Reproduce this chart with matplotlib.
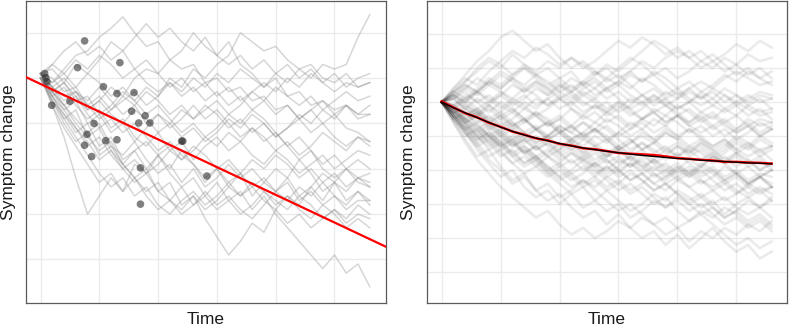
import numpy as np
import matplotlib
matplotlib.use("Agg")
import matplotlib.pyplot as plt

plt.rcParams["font.family"] = ["Liberation Sans", "DejaVu Sans"]

T_END = 5.6  # last time point of every trajectory

LEFT_LINES = [
    [0.1, -0.1, 0.2, 0.5, 0.6, 0.9, 1.1, 1.35, 1.0, 0.7, 0.8, 0.4, 0.2, 0.3, -0.1, 0.0, -0.3, -0.2, -0.5, -0.4, -0.7, -0.6, -0.9, -0.7, -1.0, -0.8, -1.1, -1.2, -1.4],
    [0.1, 0.0, -0.3, -0.2, -0.6, -0.4, -0.7, -0.5, -0.3, -0.6, -0.4, -0.1, -0.3, 0.0, -0.2, 0.1, -0.1, 0.2, 0.0, -0.2, 0.1, -0.1, 0.2, 0.0, 0.3, 0.2, 0.3, 0.9, 1.4],
    [0.1, -0.2, -0.4, -0.3, -0.7, -0.5, -0.2, -0.4, 0.0, 0.2, 0.1, 0.4, 0.6, 1.0, 0.7, 0.5, 0.8, 0.3, 0.1, -0.2, 0.0, -0.4, -0.3, -0.6, -0.5, -0.8, -0.6, -0.9, -0.8],
    [0.0, -0.3, -0.1, -0.5, -0.4, -0.8, -0.6, -0.3, -0.5, -0.2, -0.4, 0.0, -0.2, 0.2, 0.0, 0.3, 0.5, 1.0, 0.8, 0.6, 0.7, 0.4, 0.2, 0.3, 0.0, -0.1, 0.1, -0.2, -0.1],
    [0.1, -0.6, -1.3, -2.2, -3.0, -2.6, -2.2, -2.5, -1.9, -2.1, -1.7, -2.0, -1.6, -1.9, -2.3, -2.0, -2.4, -2.1, -2.6, -2.3, -2.0, -2.2, -1.8, -2.1, -2.5, -2.3, -2.7, -2.5, -2.8],
    [0.1, -0.4, -0.9, -0.7, -1.3, -1.6, -1.4, -1.9, -2.2, -2.0, -2.5, -2.3, -2.8, -2.6, -3.1, -3.5, -3.9, -3.6, -3.2, -3.4, -2.9, -2.6, -2.8, -2.4, -2.7, -2.3, -2.5, -2.2, -2.4],
    [0.0, -0.5, -0.8, -1.2, -1.0, -1.5, -1.3, -1.8, -1.6, -2.0, -1.7, -2.1, -2.4, -2.2, -2.6, -2.3, -2.7, -2.5, -2.9, -2.6, -3.0, -3.3, -3.6, -3.9, -4.2, -3.9, -4.3, -4.1, -4.6],
    [0.1, -0.3, -0.7, -0.5, -1.0, -0.8, -1.2, -1.0, -1.4, -1.1, -0.8, -1.0, -0.7, -0.9, -0.6, -0.8, -1.1, -0.9, -1.2, -1.0, -1.3, -1.1, -0.9, -1.2, -1.0, -1.3, -1.5, -1.3, -1.5],
    [0.0, -0.4, -0.2, -0.6, -0.9, -0.7, -1.1, -0.9, -1.3, -1.5, -1.2, -1.6, -1.4, -1.8, -1.5, -1.3, -1.6, -1.4, -1.7, -1.9, -1.6, -1.8, -2.1, -1.9, -1.7, -2.0, -1.8, -1.6, -1.7],
    [0.1, -0.2, -0.5, -0.3, -0.6, -0.9, -0.7, -0.4, -0.6, -0.3, -0.5, -0.8, -0.6, -0.9, -0.7, -0.5, -0.8, -0.6, -0.3, -0.5, -0.2, -0.4, -0.6, -0.4, -0.7, -0.5, -0.3, -0.5, -0.4],
    [0.0, -0.3, -0.6, -0.9, -1.2, -1.0, -1.5, -1.7, -1.4, -1.8, -2.1, -1.9, -2.3, -2.0, -2.4, -2.2, -1.9, -2.2, -2.0, -2.3, -2.5, -2.2, -2.6, -2.4, -2.1, -2.3, -2.0, -2.2, -2.1],
    [0.1, -0.4, -0.8, -1.1, -1.4, -1.8, -1.6, -2.0, -2.3, -2.1, -2.5, -2.7, -2.4, -2.8, -2.6, -2.9, -2.7, -3.0, -2.8, -2.5, -2.7, -2.9, -2.6, -2.8, -3.1, -2.9, -3.2, -3.0, -3.1],
    [0.1, -0.1, 0.1, 0.4, 0.2, 0.5, 0.3, 0.0, 0.2, -0.1, -0.3, -0.1, -0.4, -0.2, -0.5, -0.3, -0.6, -0.4, -0.7, -0.5, -0.8, -0.6, -0.9, -0.7, -0.5, -0.7, -0.6, -0.8, -0.6],
    [0.0, -0.5, -1.0, -1.4, -1.2, -1.7, -1.5, -1.9, -1.6, -1.4, -1.7, -1.5, -1.8, -1.6, -1.3, -1.5, -1.2, -1.4, -1.1, -1.3, -1.6, -1.4, -1.7, -1.5, -1.2, -1.4, -1.6, -1.3, -1.4],
    [0.1, -0.3, -0.6, -1.0, -1.3, -1.1, -1.6, -1.9, -2.2, -2.5, -2.3, -2.7, -2.9, -2.6, -2.9, -2.7, -2.4, -2.6, -2.3, -2.5, -2.8, -2.6, -2.9, -3.1, -2.8, -3.0, -3.3, -3.1, -3.3],
    [0.1, 0.3, 0.6, 0.8, 0.5, 0.7, 0.4, 0.6, 0.2, 0.4, 0.1, -0.2, 0.0, -0.3, -0.1, -0.4, -0.2, -0.5, -0.3, -0.1, -0.3, 0.0, -0.2, 0.1, -0.1, -0.3, -0.1, -0.2, -0.1],
    [0.0, -0.4, -0.7, -1.1, -1.5, -1.3, -1.7, -2.0, -1.8, -2.1, -1.9, -1.6, -1.8, -1.5, -1.7, -2.0, -1.8, -2.1, -2.4, -2.2, -2.5, -2.3, -2.7, -2.5, -2.8, -2.6, -2.9, -2.7, -2.7],
    [0.1, -0.2, 0.0, -0.3, -0.5, -0.2, -0.5, -0.8, -0.6, -1.0, -0.8, -1.1, -0.9, -0.6, -0.9, -0.7, -1.0, -1.3, -1.1, -1.4, -1.2, -1.5, -1.8, -1.6, -2.0, -2.2, -2.0, -2.3, -2.4],
    [0.0, -0.5, -0.9, -1.3, -1.7, -2.1, -2.4, -2.2, -2.6, -2.4, -2.8, -3.0, -2.7, -2.5, -2.8, -2.6, -2.3, -2.6, -2.4, -2.7, -2.9, -3.2, -3.0, -3.3, -3.1, -2.9, -3.1, -2.8, -3.0],
    [0.1, -0.3, -0.1, -0.4, -0.7, -0.5, -0.8, -1.0, -0.7, -0.9, -1.2, -1.0, -1.3, -1.1, -1.4, -1.2, -0.9, -1.1, -0.8, -1.0, -1.3, -1.1, -0.8, -1.0, -0.7, -0.9, -0.6, -0.8, -0.8],
    [0.1, 0.2, -0.1, 0.3, 0.1, 0.4, 0.8, 0.6, 0.9, 1.2, 0.9, 1.1, 0.8, 0.6, 0.9, 0.5, 0.3, 0.5, 0.2, 0.4, 0.1, 0.3, 0.0, 0.2, -0.1, 0.1, -0.2, 0.0, 0.1],
    [0.0, -0.6, -1.1, -1.5, -1.9, -2.3, -2.1, -2.5, -2.2, -2.6, -2.9, -2.7, -3.0, -2.8, -2.5, -2.8, -2.6, -2.9, -3.1, -2.8, -2.5, -2.7, -2.4, -2.6, -2.3, -2.6, -2.8, -2.5, -2.7],
    [0.1, -0.2, -0.6, -0.4, -0.8, -1.1, -0.9, -1.2, -1.0, -1.3, -1.6, -1.4, -1.7, -1.9, -2.2, -2.0, -2.3, -2.1, -1.8, -2.0, -1.7, -1.9, -2.2, -2.0, -2.3, -2.1, -2.4, -2.2, -2.3],
    [0.0, 0.3, 0.1, -0.2, 0.1, -0.1, -0.4, -0.2, -0.5, -0.8, -0.6, -0.9, -1.2, -1.0, -1.3, -1.1, -0.8, -1.0, -0.7, -0.9, -1.2, -1.5, -1.3, -1.6, -1.9, -1.7, -2.0, -1.8, -2.0],
]

# observed points (time, value)
DOT_T = [0.07, 0.09, 0.11, 0.19, 0.50, 0.63, 0.75, 0.79, 0.75, 0.91, 0.87, 1.07, 1.11,
         1.30, 1.30, 1.35, 1.55, 1.59, 1.67, 1.78, 1.86, 1.70, 1.70, 2.40, 2.42, 2.83]
DOT_Y = [0.10, 0.01, -0.08, -0.60, -0.51, 0.23, 0.82, -1.24, -1.48, -1.00, -1.73, -0.19, -1.38,
         -0.34, -1.36, 0.34, -0.73, -0.32, -0.99, -0.83, -0.99, -1.98, -2.78, -1.39, -1.39, -2.16]

# linear fit shown in red
FIT_INTERCEPT = -0.13
FIT_SLOPE = -0.611

# ----- right panel: simulated trajectories -----
RIGHT_LINES = [
    [0, 0.3, 0.6, 0.9, 1.2, 1.0, 1.4, 1.1, 0.8, 1.0, 0.7, 0.9, 0.5, 0.7, 0.4, 0.6, 0.9, 0.6, 0.8, 0.5, 0.2, 0.4, 0.1, 0.3, 0.0, 0.2, -0.1, 0.1, -0.2],
    [0, -0.5, -0.9, -1.4, -1.8, -2.2, -2.0, -2.5, -2.8, -2.6, -3.0, -2.7, -3.1, -2.9, -2.6, -2.9, -3.2, -3.0, -2.7, -2.9, -2.6, -2.8, -3.1, -2.9, -3.3, -3.0, -2.8, -3.1, -2.9],
    [0, -0.2, -0.4, -0.2, -0.5, -0.8, -0.6, -0.9, -1.2, -1.0, -0.7, -0.9, -1.1, -0.8, -1.0, -1.3, -1.1, -1.4, -1.2, -0.9, -1.1, -1.4, -1.2, -1.5, -1.3, -1.0, -1.2, -1.4, -1.3],
    [0, 0.2, 0.0, 0.3, 0.1, -0.2, 0.1, -0.1, -0.4, -0.2, 0.1, -0.1, 0.2, 0.0, -0.3, -0.1, -0.4, -0.2, 0.1, -0.1, -0.3, -0.6, -0.4, -0.7, -0.5, -0.8, -0.6, -0.9, -0.7],
    [0, -0.4, -0.7, -1.0, -1.3, -1.1, -1.5, -1.8, -1.6, -1.9, -2.2, -2.0, -1.7, -1.9, -2.2, -2.0, -2.3, -2.1, -2.4, -2.2, -1.9, -2.1, -1.8, -2.0, -2.3, -2.1, -2.4, -2.2, -2.0],
    [0, -0.3, -0.1, -0.4, -0.7, -0.5, -0.8, -0.6, -0.3, -0.5, -0.8, -1.1, -0.9, -1.2, -1.5, -1.3, -1.6, -1.4, -1.7, -2.0, -1.8, -2.1, -1.9, -1.6, -1.8, -1.5, -1.7, -2.0, -1.8],
    [0, -0.6, -1.1, -1.6, -1.4, -1.9, -2.3, -2.1, -2.6, -2.9, -2.7, -3.1, -3.4, -3.2, -3.6, -3.3, -3.7, -4.0, -3.8, -4.2, -3.9, -4.3, -4.0, -3.7, -4.1, -4.4, -4.2, -4.6, -4.4],
    [0, 0.4, 0.8, 1.2, 1.5, 1.9, 2.1, 1.8, 1.5, 1.7, 1.3, 1.0, 1.2, 0.9, 0.6, 0.8, 0.5, 0.2, 0.4, 0.1, 0.3, 0.0, 0.2, -0.1, -0.3, -0.1, -0.4, -0.2, -0.5],
    [0, -0.3, -0.6, -0.9, -0.7, -1.0, -1.3, -1.1, -1.4, -1.2, -1.5, -1.8, -1.6, -1.9, -1.7, -2.0, -2.3, -2.1, -2.4, -2.6, -2.3, -2.5, -2.8, -2.6, -2.9, -2.7, -2.4, -2.6, -2.5],
    [0, -0.1, 0.2, 0.0, -0.3, 0.0, -0.2, -0.5, -0.3, -0.6, -0.4, -0.7, -1.0, -0.8, -1.1, -0.9, -0.6, -0.8, -0.5, -0.7, -1.0, -0.8, -1.1, -1.3, -1.1, -1.4, -1.2, -1.5, -1.3],
    [0, -0.4, -0.8, -0.6, -1.0, -1.3, -1.6, -1.4, -1.7, -1.5, -1.2, -1.4, -1.1, -1.3, -1.6, -1.4, -1.7, -1.9, -1.7, -1.4, -1.6, -1.3, -1.5, -1.8, -1.6, -1.9, -1.7, -2.0, -1.8],
    [0, -0.2, -0.5, -0.8, -1.1, -0.9, -1.2, -1.5, -1.8, -2.1, -1.9, -2.2, -2.5, -2.3, -2.6, -2.4, -2.7, -2.5, -2.8, -3.1, -2.9, -3.2, -3.0, -3.3, -3.6, -3.4, -3.7, -3.5, -3.8],
    [0, 0.1, 0.4, 0.2, 0.5, 0.3, 0.0, 0.2, -0.1, 0.1, -0.2, 0.0, 0.3, 0.1, 0.4, 0.6, 0.4, 0.7, 0.5, 0.2, 0.4, 0.1, -0.1, 0.1, -0.2, 0.0, 0.2, 0.0, 0.1],
    [0, -0.3, -0.5, -0.3, -0.6, -0.4, -0.7, -0.5, -0.8, -1.1, -0.9, -1.2, -1.0, -1.3, -1.1, -1.4, -1.2, -0.9, -1.1, -0.8, -1.0, -1.3, -1.1, -1.4, -1.2, -1.5, -1.3, -1.6, -1.4],
    [0, -0.5, -0.8, -1.2, -1.0, -1.4, -1.2, -1.5, -1.3, -1.6, -1.9, -1.7, -2.0, -1.8, -2.1, -1.9, -1.6, -1.8, -2.1, -2.4, -2.2, -2.5, -2.3, -2.6, -2.4, -2.7, -2.5, -2.2, -2.4],
    [0, 0.2, 0.5, 0.3, 0.6, 0.9, 0.7, 0.4, 0.6, 0.3, 0.5, 0.2, -0.1, 0.1, -0.2, 0.0, -0.3, -0.5, -0.3, -0.6, -0.4, -0.7, -0.5, -0.8, -0.6, -0.9, -0.7, -1.0, -0.8],
    [0, -0.4, -0.6, -0.9, -1.2, -1.0, -1.3, -1.1, -0.8, -1.0, -1.3, -1.1, -1.4, -1.7, -1.5, -1.8, -1.6, -1.9, -2.2, -2.0, -2.3, -2.1, -2.4, -2.2, -1.9, -2.1, -2.4, -2.2, -2.5],
    [0, -0.2, 0.0, -0.3, -0.1, -0.4, -0.2, -0.5, -0.8, -0.6, -0.9, -0.7, -0.4, -0.6, -0.3, -0.5, -0.8, -0.6, -0.9, -0.7, -0.4, -0.6, -0.3, -0.5, -0.2, -0.4, -0.7, -0.5, -0.6],
    [0, -0.5, -1.0, -0.8, -1.2, -1.6, -1.4, -1.8, -1.6, -2.0, -2.3, -2.1, -2.4, -2.2, -1.9, -2.1, -1.8, -2.0, -1.7, -1.9, -2.2, -2.0, -2.3, -2.5, -2.3, -2.6, -2.8, -2.6, -2.9],
    [0, -0.1, -0.4, -0.2, -0.5, -0.3, -0.6, -0.9, -0.7, -1.0, -0.8, -1.1, -0.9, -0.6, -0.8, -1.1, -1.4, -1.2, -1.5, -1.3, -1.6, -1.4, -1.7, -1.5, -1.8, -1.6, -1.9, -1.7, -2.0],
    [0, -0.3, -0.7, -1.0, -0.8, -1.2, -1.0, -1.3, -1.6, -1.4, -1.7, -1.5, -1.8, -2.1, -1.9, -2.2, -2.0, -2.3, -2.6, -2.4, -2.7, -2.9, -2.7, -3.0, -2.8, -3.1, -3.3, -3.1, -3.4],
    [0, 0.3, 0.1, 0.4, 0.7, 0.5, 0.8, 1.1, 0.9, 1.2, 1.0, 1.3, 1.1, 0.8, 1.0, 0.7, 0.9, 1.2, 1.0, 1.3, 1.5, 1.3, 1.0, 1.2, 0.9, 1.1, 0.8, 1.0, 0.7],
    [0, -0.2, -0.5, -0.3, -0.6, -0.9, -0.7, -1.0, -0.8, -1.1, -0.9, -1.2, -1.5, -1.3, -1.6, -1.4, -1.7, -1.5, -1.8, -1.6, -1.3, -1.5, -1.2, -1.4, -1.7, -1.5, -1.8, -1.6, -1.9],
    [0, -0.4, -0.9, -1.3, -1.7, -2.0, -2.4, -2.2, -2.6, -2.4, -2.8, -2.6, -2.3, -2.5, -2.2, -2.4, -2.1, -2.3, -2.6, -2.4, -2.7, -3.0, -2.8, -3.1, -3.4, -3.2, -3.5, -3.3, -3.6],
    [0, -0.1, 0.1, -0.2, 0.0, 0.3, 0.1, 0.4, 0.2, -0.1, 0.1, -0.2, -0.5, -0.3, -0.6, -0.4, -0.7, -0.5, -0.2, -0.4, -0.1, -0.3, -0.6, -0.4, -0.7, -0.9, -0.7, -1.0, -0.8],
    [0, -0.3, -0.6, -0.4, -0.7, -1.0, -0.8, -1.1, -1.4, -1.2, -1.5, -1.3, -1.6, -1.4, -1.7, -2.0, -1.8, -2.1, -1.9, -2.2, -2.0, -1.7, -1.9, -1.6, -1.8, -2.1, -1.9, -2.2, -2.0],
    [0, -0.5, -0.3, -0.7, -1.0, -0.8, -1.1, -0.9, -1.2, -1.0, -0.7, -0.9, -0.6, -0.8, -0.5, -0.7, -1.0, -0.8, -1.1, -1.4, -1.2, -1.5, -1.3, -1.6, -1.4, -1.1, -1.3, -1.0, -1.2],
    [0, -0.2, -0.6, -1.0, -1.4, -1.2, -1.6, -1.9, -1.7, -2.1, -2.4, -2.7, -2.5, -2.9, -3.2, -3.0, -3.4, -3.2, -2.9, -3.1, -2.8, -3.0, -3.3, -3.1, -3.4, -3.2, -2.9, -3.1, -2.8],
    [0, 0.2, 0.4, 0.7, 0.5, 0.8, 0.6, 0.3, 0.5, 0.2, 0.4, 0.7, 0.5, 0.8, 1.1, 0.9, 1.2, 1.5, 1.8, 1.6, 1.3, 1.5, 1.2, 1.4, 1.1, 0.8, 1.0, 0.7, 0.9],
    [0, -0.3, -0.2, -0.5, -0.8, -0.6, -0.9, -1.2, -1.0, -1.3, -1.6, -1.4, -1.7, -1.5, -1.8, -1.6, -1.9, -1.7, -2.0, -1.8, -2.1, -1.9, -2.2, -2.0, -2.3, -2.1, -2.4, -2.2, -2.5],
    [0, -0.4, -0.7, -1.1, -0.9, -1.3, -1.1, -1.5, -1.3, -1.6, -1.4, -1.1, -1.3, -1.0, -1.2, -0.9, -1.1, -1.4, -1.2, -1.5, -1.3, -1.6, -1.4, -1.7, -1.5, -1.2, -1.4, -1.1, -1.3],
    [0, -0.6, -1.2, -1.7, -2.1, -2.5, -2.8, -3.1, -3.4, -3.2, -3.6, -3.9, -3.7, -4.0, -3.8, -3.5, -3.7, -3.4, -3.6, -3.9, -3.7, -4.1, -3.8, -4.0, -3.7, -3.9, -3.6, -3.8, -3.5],
    [0, 0.1, -0.2, 0.1, -0.1, 0.2, 0.5, 0.3, 0.6, 0.4, 0.1, 0.3, 0.0, -0.2, 0.0, -0.3, -0.1, 0.2, 0.0, 0.3, 0.1, 0.4, 0.6, 0.4, 0.7, 0.9, 0.7, 0.5, 0.6],
    [0, -0.3, -0.5, -0.8, -0.6, -0.9, -1.2, -1.0, -1.3, -1.1, -1.4, -1.2, -1.5, -1.8, -1.6, -1.3, -1.5, -1.2, -1.4, -1.7, -1.5, -1.8, -2.1, -1.9, -2.2, -2.0, -2.3, -2.1, -2.2],
    [0, -0.2, -0.5, -0.7, -1.0, -1.3, -1.1, -1.4, -1.7, -2.0, -1.8, -2.1, -1.9, -2.2, -2.5, -2.3, -2.6, -2.4, -2.1, -2.3, -2.0, -2.2, -1.9, -2.1, -2.4, -2.2, -2.5, -2.7, -2.5],
    [0, 0.3, 0.6, 1.0, 1.3, 1.1, 0.8, 1.0, 0.7, 0.4, 0.6, 0.3, 0.5, 0.2, 0.4, 0.1, -0.2, 0.0, -0.3, -0.1, -0.4, -0.2, -0.5, -0.3, -0.6, -0.4, -0.1, -0.3, -0.2],
    [0, -0.4, -0.8, -1.2, -1.6, -1.4, -1.8, -2.1, -1.9, -1.6, -1.8, -1.5, -1.7, -2.0, -2.3, -2.6, -2.4, -2.7, -3.0, -2.8, -3.2, -3.5, -3.3, -3.6, -3.9, -4.2, -4.0, -4.3, -4.1],
    [0, -0.1, -0.3, -0.6, -0.4, -0.7, -0.5, -0.2, -0.4, -0.7, -0.5, -0.8, -0.6, -0.9, -0.7, -1.0, -0.8, -0.5, -0.7, -0.4, -0.6, -0.9, -0.7, -1.0, -0.8, -1.1, -0.9, -0.6, -0.8],
    [0, -0.5, -0.9, -1.3, -1.1, -1.5, -1.8, -1.6, -1.9, -2.2, -2.0, -2.3, -2.1, -1.8, -2.0, -1.7, -1.9, -1.6, -1.8, -2.1, -1.9, -2.2, -2.0, -2.3, -2.6, -2.4, -2.7, -2.5, -2.7],
    [0, 0.2, -0.1, -0.3, -0.6, -0.4, -0.7, -0.5, -0.8, -0.6, -0.9, -0.7, -1.0, -0.8, -1.1, -1.4, -1.2, -1.0, -1.2, -0.9, -1.1, -0.8, -1.0, -1.3, -1.1, -1.4, -1.6, -1.4, -1.7],
    [0, 0.3, 0.5, 0.3, 0.6, 0.4, 0.7, 0.5, 0.8, 0.6, 0.3, 0.5, 0.2, 0.4, 0.7, 0.5, 0.8, 0.6, 0.9, 0.7, 0.4, 0.6, 0.3, 0.5, 0.8, 0.6, 0.9, 0.7, 0.5],
    [0, -0.2, 0.1, 0.3, 0.0, 0.2, -0.1, 0.1, 0.4, 0.2, 0.5, 0.3, 0.6, 0.4, 0.1, 0.3, 0.0, 0.2, -0.1, 0.1, -0.2, 0.0, 0.3, 0.1, 0.4, 0.2, 0.0, 0.2, 0.1],
    [0, 0.1, -0.2, -0.4, -0.1, -0.3, 0.0, -0.2, 0.1, -0.1, 0.2, 0.0, -0.3, -0.1, -0.4, -0.2, 0.1, -0.1, 0.2, 0.0, -0.2, 0.0, -0.3, -0.1, 0.2, 0.0, -0.2, -0.4, -0.3],
    [0, 0.4, 0.7, 0.5, 0.9, 1.2, 1.5, 1.3, 1.6, 1.4, 1.1, 1.3, 1.0, 1.2, 1.5, 1.8, 1.6, 1.9, 1.7, 1.4, 1.6, 1.3, 1.5, 1.2, 1.4, 1.7, 1.5, 1.8, 1.6],
    [0, -0.3, -0.6, -0.4, -0.2, -0.5, -0.3, -0.6, -0.4, -0.7, -0.5, -0.2, -0.4, -0.1, -0.3, 0.0, -0.2, -0.5, -0.3, -0.6, -0.4, -0.7, -0.9, -0.7, -1.0, -0.8, -0.5, -0.7, -0.6],
    [0, 0.2, 0.0, 0.3, 0.6, 0.4, 0.7, 1.0, 0.8, 0.5, 0.7, 0.4, 0.6, 0.9, 0.7, 1.0, 1.3, 1.1, 0.8, 1.0, 0.7, 0.9, 1.2, 1.0, 1.3, 1.1, 1.4, 1.2, 1.3],
    [0, -0.4, -0.8, -1.1, -0.9, -1.2, -1.5, -1.3, -1.6, -1.9, -2.2, -2.5, -2.3, -2.6, -2.9, -3.2, -3.0, -3.3, -3.6, -3.4, -3.7, -3.5, -3.2, -3.4, -3.1, -3.3, -3.6, -3.4, -3.7],
    [0, 0.1, 0.3, 0.0, 0.2, -0.1, -0.3, 0.0, -0.2, 0.1, 0.3, 0.1, 0.4, 0.6, 0.3, 0.5, 0.2, 0.0, 0.2, -0.1, 0.1, 0.3, 0.1, 0.4, 0.2, -0.1, 0.1, 0.3, 0.2],
]

# expected trajectory (black) and average of simulations (red)
MEAN_TRUE = [0, -0.17, -0.32, -0.46, -0.60, -0.74, -0.86, -0.97, -1.06, -1.14, -1.22, -1.29, -1.35, -1.40,
             -1.45, -1.49, -1.53, -1.57, -1.60, -1.63, -1.66, -1.68, -1.71, -1.73, -1.75, -1.77, -1.79, -1.80, -1.82]
MEAN_SIM = [0.02, -0.16, -0.33, -0.45, -0.61, -0.73, -0.87, -0.96, -1.07, -1.13, -1.23, -1.28, -1.36, -1.39,
            -1.44, -1.50, -1.52, -1.54, -1.56, -1.60, -1.65, -1.67, -1.70, -1.72, -1.76, -1.76, -1.78, -1.79, -1.81]


def style_panel(ax, xlim, ylim, yticks):
    ax.set_xlim(*xlim)
    ax.set_ylim(*ylim)
    ax.set_xticks(np.arange(0, 6))
    ax.set_yticks(yticks)
    ax.grid(True, color="#ebebeb", linewidth=1.0, zorder=0)
    ax.set_axisbelow(True)
    ax.tick_params(length=0, labelbottom=False, labelleft=False)
    for sp in ax.spines.values():
        sp.set_color("#5a5a5a")
        sp.set_linewidth(0.9)


fig = plt.figure(figsize=(7.89, 3.27), dpi=100)
ax1 = fig.add_axes([26 / 789, 24 / 327, 360 / 789, 302 / 327])
ax2 = fig.add_axes([427 / 789, 24 / 327, 360 / 789, 302 / 327])

# left
for vals in LEFT_LINES:
    t = np.linspace(0, T_END, len(vals))
    ax1.plot(t, vals, color="#8c8c8c", alpha=0.35, linewidth=1.1, zorder=2)
ax1.scatter(DOT_T, DOT_Y, s=30, color="#2b2b2b", alpha=0.6, edgecolors="none", zorder=3)
ax1.axline((0, FIT_INTERCEPT), slope=FIT_SLOPE, color="red", linewidth=1.6, zorder=4)
style_panel(ax1, (-0.247, 5.876), (-4.96, 1.70), np.arange(-4, 2))

# right
for vals in RIGHT_LINES:
    t = np.linspace(0, T_END, len(vals))
    ax2.plot(t, vals, color="black", alpha=0.08, linewidth=1.9, zorder=2)
t = np.linspace(0, T_END, len(MEAN_SIM))
ax2.plot(t, MEAN_SIM, color="red", linewidth=1.8, zorder=4)
ax2.plot(t, MEAN_TRUE, color="black", linewidth=1.0, zorder=5)
style_panel(ax2, (-0.25, 5.86), (-5.91, 2.97), np.arange(-5, 3))

for xc in (206, 607):
    fig.text(xc / 789, 1 - 319 / 327, "Time", ha="center", va="center", fontsize=12.5, color="#1a1a1a")
for xc in (9, 409):
    fig.text(xc / 789, 1 - 152 / 327, "Symptom change", ha="center", va="center",
             rotation=90, fontsize=12.5, color="#1a1a1a")

fig.savefig("out.png", dpi=100)
